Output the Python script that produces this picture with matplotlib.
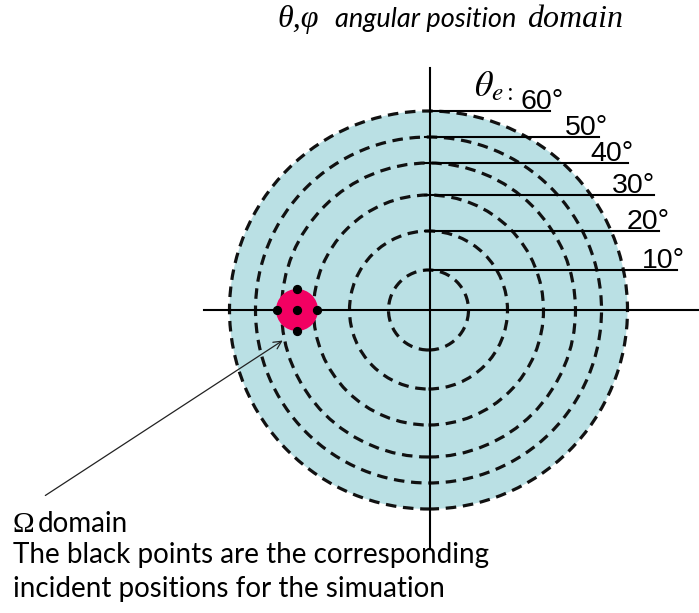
import matplotlib
matplotlib.use("Agg")
import matplotlib.pyplot as plt
from matplotlib.patches import Circle, FancyArrowPatch

# Données (unités : pixels du schéma, origine au centre des axes)
theta_labels = ["10°", "20°", "30°", "40°", "50°", "60°"]
ring_radius = [40, 79, 115, 147, 173, 199]

omega_center = (-133, 0)
omega_radius = 21
points_x = [-133, -153, -113, -133, -133]
points_y = [0, 0, 0, 21, -21]

# Mise en page des repères de θe
mark_start = [-5, -5, -5, -5, -5, 0]
mark_end = [247, 229, 224, 198, 169, 120]
label_x = [212, 197, 182, 160, 135, 90]

fig = plt.figure(figsize=(6.99, 6.13), dpi=100)
ax = fig.add_axes([0, 0, 1, 1])
ax.set_xlim(-430, 269)
ax.set_ylim(-303, 310)
ax.set_aspect("equal")
ax.axis("off")

# Disque extérieur
ax.add_patch(Circle((-1.5, 0), ring_radius[-1], facecolor="#bae0e4",
                    edgecolor="none", zorder=1))
for r in ring_radius:
    ax.add_patch(Circle((-1.5, 0), r, facecolor="none", edgecolor="#111111",
                        lw=2.3, linestyle=(0, (3.3, 2.1)), zorder=2))

# Axes
ax.plot([-226, 269], [0, 0], color="black", lw=1.5, zorder=3)
ax.plot([0, 0], [242, -239], color="black", lw=1.5, zorder=3)

# Repères
for r, x0, x1, lx, lab in zip(ring_radius, mark_start, mark_end, label_x, theta_labels):
    ax.plot([x0, x1], [r, r], color="black", lw=1.5, zorder=3)
    ax.text(lx, r + 2, lab, fontsize=20.5, family="Liberation Sans",
            ha="left", va="baseline", zorder=4)
ax.text(44, 214, r"$\theta_{e:}$", fontsize=26, ha="left", va="baseline",
        math_fontfamily="stix")

# Domaine Omega
ax.add_patch(Circle(omega_center, omega_radius, facecolor="#f20062",
                    edgecolor="none", zorder=5))
ax.scatter(points_x, points_y, s=32, color="black", zorder=6)

ax.add_patch(FancyArrowPatch((-387, -187), (-145, -29), arrowstyle="->",
                             mutation_scale=14, lw=0.9, color="#222222", zorder=6))

# Titre
ax.text(-153, 283, "θ,φ", fontsize=23, family="Liberation Serif",
        style="italic", ha="left", va="baseline")
ax.text(-95, 283, "angular position", fontsize=19.5, family="Lato",
        style="italic", ha="left", va="baseline")
ax.text(97, 283, "domain", fontsize=23, family="Liberation Serif",
        style="italic", ha="left", va="baseline")

# Légende en bas
ax.text(-417, -222, "Ω", fontsize=21, family="Liberation Serif",
        ha="left", va="baseline")
ax.text(-392, -222, "domain", fontsize=20, family="Lato",
        ha="left", va="baseline")
ax.text(-417, -253, "The black points are the corresponding", fontsize=20,
        family="Lato", ha="left", va="baseline")
ax.text(-417, -287, "incident positions for the simuation", fontsize=20,
        family="Lato", ha="left", va="baseline")

plt.savefig("out.png", dpi=100)
